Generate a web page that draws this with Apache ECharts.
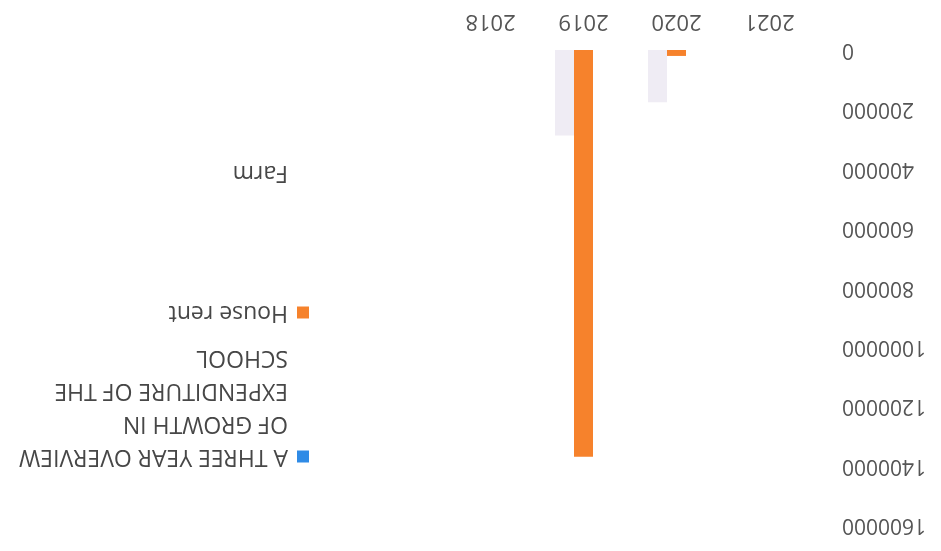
<!DOCTYPE html>
<html>
<head>
<meta charset="utf-8">
<script src="https://cdn.jsdelivr.net/npm/echarts@6/dist/echarts.min.js"></script>
<style>
html,body{margin:0;padding:0;background:#fff;}
#chart{width:941px;height:551px;transform:rotate(180deg);transform-origin:50% 50%;}
</style>
</head>
<body>
<div id="chart"></div>
<script>
var categories = ['2021', '2020', '2019', '2018'];
var overviewValues = [0, 0, 0, 0];
var houseRentValues = [0, 20000, 1370000, 0];
var farmValues = [0, 176000, 288000, 0];
var seriesNames = ['A THREE YEAR OVERVIEW OF GROWTH IN EXPENDITURE OF THE SCHOOL', 'House rent', 'Farm'];
var yTicks = { min: 0, max: 1600000, interval: 200000 };

var chart = echarts.init(document.getElementById('chart'));
var fontFamily = '"Open Sans", sans-serif';
var colors = ['#2f8be6', '#f6822c', '#efecf4'];

function legendFor(i, top, fmt, itemStyle) {
  var l = {
    data: [seriesNames[i]],
    left: 632, top: top, padding: 0,
    orient: 'vertical',
    itemWidth: 12, itemHeight: 12,
    icon: 'rect',
    selectedMode: false,
    textStyle: { fontFamily: fontFamily, fontSize: 23, color: '#474747', lineHeight: 33, padding: [0, 0, 0, 4] }
  };
  if (fmt) l.formatter = fmt;
  if (itemStyle) l.itemStyle = itemStyle;
  return l;
}

chart.setOption({
  animation: false,
  color: colors,
  grid: { left: 125, right: 444, top: 26, bottom: 50, containLabel: false },
  legend: [
    legendFor(0, -21, function () { return '\n\n\nA THREE YEAR OVERVIEW\nOF GROWTH IN\nEXPENDITURE OF THE\nSCHOOL'; }),
    legendFor(1, 222),
    legendFor(2, 362, null, { opacity: 0 })
  ],
  xAxis: {
    type: 'category',
    data: categories,
    axisLine: { show: false },
    axisTick: { show: false },
    axisLabel: { fontFamily: fontFamily, fontSize: 22, color: '#555', margin: 18 }
  },
  yAxis: {
    type: 'value',
    min: yTicks.min, max: yTicks.max, interval: yTicks.interval,
    splitLine: { show: false },
    axisLine: { show: false },
    axisTick: { show: false },
    axisLabel: { fontFamily: fontFamily, fontSize: 21, color: '#555', margin: 26,
      formatter: function (v) { return String(v); } }
  },
  series: [
    { name: seriesNames[0], type: 'bar', data: overviewValues, barWidth: 19, barGap: '0%' },
    { name: seriesNames[1], type: 'bar', data: houseRentValues, barWidth: 19, barGap: '0%' },
    { name: seriesNames[2], type: 'bar', data: farmValues, barWidth: 19, barGap: '0%' }
  ]
});
</script>
</body>
</html>
